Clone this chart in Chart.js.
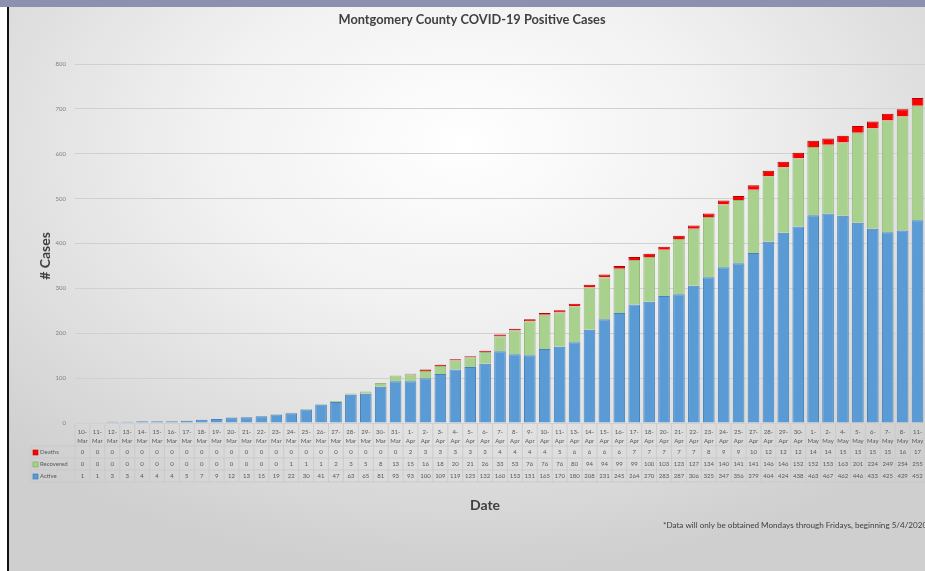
<!DOCTYPE html>
<html>
<head>
<meta charset="utf-8">
<script src="https://cdn.jsdelivr.net/npm/chart.js@4"></script>
<style>
  html, body { margin: 0; padding: 0; }
  body {
    width: 925px; height: 571px; overflow: hidden; position: relative;
    background: radial-gradient(ellipse 70% 75% at 50% 25%, #ffffff 0%, #f1f1f1 40%, #cfcfcf 100%);
  }
  #band { position: absolute; left: 0; top: 0; width: 925px; height: 7px; background: #8d91ae; }
  #edge { position: absolute; left: 0; top: 7px; width: 7px; height: 564px; background: #ffffff; border-right: 2px solid #111; }
  canvas { position: absolute; left: 0; top: 0; }
</style>
</head>
<body>
<div id="band"></div>
<div id="edge"></div>
<canvas id="cases" width="925" height="571"></canvas>
<script>
const dates = [
  '10-Mar','11-Mar','12-Mar','13-Mar','14-Mar','15-Mar','16-Mar','17-Mar','18-Mar','19-Mar','20-Mar','21-Mar',
  '22-Mar','23-Mar','24-Mar','25-Mar','26-Mar','27-Mar','28-Mar','29-Mar','30-Mar','31-Mar',
  '1-Apr','2-Apr','3-Apr','4-Apr','5-Apr','6-Apr','7-Apr','8-Apr','9-Apr','10-Apr','11-Apr',
  '13-Apr','14-Apr','15-Apr','16-Apr','17-Apr','18-Apr','20-Apr','21-Apr','22-Apr','23-Apr','24-Apr','25-Apr',
  '27-Apr','28-Apr','29-Apr','30-Apr','1-May','2-May','4-May','5-May','6-May','7-May','8-May','11-May'
];
const deaths = [
  0,0,0,0,0,0,0,0,0,0,0,0,
  0,0,0,0,0,0,0,0,0,0,
  2,3,3,3,3,3,4,4,4,4,5,
  6,6,6,6,7,7,7,7,7,8,9,9,
  10,12,12,12,14,14,15,15,15,15,16,17
];
const recovered = [
  0,0,0,0,0,0,0,0,0,0,0,0,
  0,0,1,1,1,2,3,5,8,13,
  15,16,18,20,21,26,33,53,76,76,76,
  80,94,94,99,99,100,103,123,127,134,140,141,
  141,146,146,152,152,153,163,201,224,249,254,255
];
const active = [
  1,1,3,3,4,4,4,5,7,9,12,13,
  15,19,22,30,41,47,63,65,81,93,
  93,100,109,119,125,132,160,153,151,165,170,
  180,208,231,245,264,270,283,287,306,325,347,356,
  379,404,424,438,463,467,462,446,433,425,429,452
];
const yTicks = [0, 100, 200, 300, 400, 500, 600, 700, 800];

const grey = '#595959';
const font = 'Lato, "Open Sans", sans-serif';

// rows of the table under the chart, top to bottom
const tableRows = [
  { label: 'Deaths', values: deaths, fill: '#ff0000', line: '#c00000' },
  { label: 'Recovered', values: recovered, fill: '#a9d18e', line: '#70ad47' },
  { label: 'Active', values: active, fill: '#5b9bd5', line: '#2e75b6' }
];

const extras = {
  id: 'extras',
  afterDraw(chart) {
    const c = chart.ctx;
    const x = chart.scales.x;
    const area = chart.chartArea;
    const colW = (area.right - area.left) / dates.length;
    c.save();

    // title
    c.fillStyle = '#404040';
    c.textAlign = 'center';
    c.textBaseline = 'middle';
    c.font = 'bold 12.8px ' + font;
    c.fillText('Montgomery County COVID-19 Positive Cases', 472, 20);

    // axis titles
    c.font = 'bold 14px ' + font;
    c.fillText('Date', 485, 505);
    c.save();
    c.translate(45, 256);
    c.rotate(-Math.PI / 2);
    c.fillText('# Cases', 0, 0);
    c.restore();

    // footnote
    c.font = '8.1px ' + font;
    c.textAlign = 'left';
    c.fillStyle = '#404040';
    c.fillText('*Data will only be obtained Mondays through Fridays, beginning 5/4/2020', 663, 525);

    // data table
    const top = area.bottom + 1;
    const headBottom = 446;
    const rowH = 12;
    const labelLeft = 31;
    c.strokeStyle = '#c8c8c8';
    c.lineWidth = 0.8;
    c.beginPath();
    for (let i = 0; i <= dates.length; i++) {
      const px = area.left + i * colW;
      c.moveTo(px, top);
      c.lineTo(px, headBottom + rowH * tableRows.length);
    }
    for (let r = 0; r <= tableRows.length; r++) {
      const py = headBottom + r * rowH;
      c.moveTo(labelLeft, py);
      c.lineTo(area.right, py);
    }
    c.moveTo(labelLeft, headBottom);
    c.lineTo(labelLeft, headBottom + rowH * tableRows.length);
    c.stroke();

    c.fillStyle = grey;
    c.textAlign = 'center';
    c.font = '6px ' + font;
    dates.forEach((d, i) => {
      const px = x.getPixelForValue(i);
      const parts = d.split('-');
      c.fillText(parts[0] + '-', px, 432);
      c.fillText(parts[1], px, 441);
    });

    tableRows.forEach((row, r) => {
      const cy = headBottom + r * rowH + rowH / 2 + 0.5;
      c.fillStyle = row.fill;
      c.fillRect(labelLeft + 2, cy - 2.5, 5, 5);
      c.strokeStyle = row.line;
      c.lineWidth = 0.6;
      c.strokeRect(labelLeft + 2, cy - 2.5, 5, 5);
      c.fillStyle = grey;
      c.textAlign = 'left';
      c.fillText(row.label, labelLeft + 9, cy);
      c.textAlign = 'center';
      row.values.forEach((v, i) => {
        c.fillText(String(v), x.getPixelForValue(i), cy);
      });
    });

    c.restore();
  }
};

new Chart(document.getElementById('cases'), {
  type: 'bar',
  data: {
    labels: dates,
    datasets: [
      { label: 'Active', data: active, backgroundColor: '#5b9bd5', borderColor: '#4682bd', borderWidth: 1 },
      { label: 'Recovered', data: recovered, backgroundColor: '#a9d18e', borderColor: '#95bb7c', borderWidth: 1 },
      { label: 'Deaths', data: deaths, backgroundColor: '#ff0000', borderColor: '#b00000', borderWidth: 1 }
    ]
  },
  options: {
    responsive: false,
    animation: false,
    devicePixelRatio: 1,
    layout: { padding: { top: 64, bottom: 148, left: 0, right: 0 } },
    datasets: { bar: { barPercentage: 0.78, categoryPercentage: 1 } },
    plugins: {
      legend: { display: false },
      tooltip: { enabled: false }
    },
    scales: {
      x: {
        stacked: true,
        display: false
      },
      y: {
        stacked: true,
        min: 0,
        max: 800,
        afterFit(scale) { scale.width = 75; },
        afterBuildTicks(scale) { scale.ticks = yTicks.map(v => ({ value: v })); },
        border: { display: false },
        grid: { color: '#d0d0d0', lineWidth: 1, drawTicks: false },
        ticks: {
          color: '#7f7f7f',
          font: { size: 6, family: font },
          padding: 9
        }
      }
    }
  },
  plugins: [extras]
});
</script>
</body>
</html>
